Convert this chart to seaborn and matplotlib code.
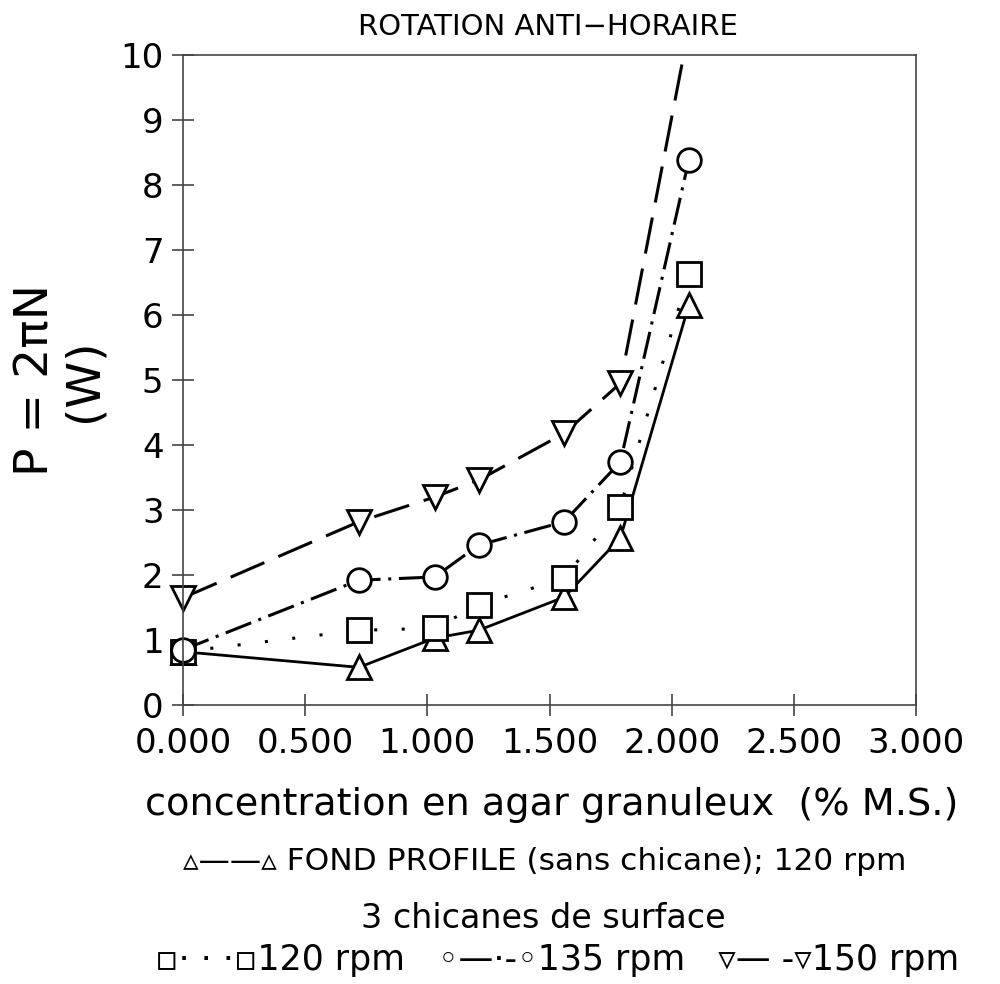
import numpy as np
import pandas as pd
import matplotlib
matplotlib.use("Agg")
import matplotlib.pyplot as plt
from matplotlib.patches import Rectangle
import seaborn as sns

# concentration en agar granuleux (% M.S.)
conc = [0.0, 0.72, 1.03, 1.21, 1.56, 1.79, 2.07]

# puissance P (W)
fond_120 = [0.82, 0.58, 1.03, 1.15, 1.66, 2.57, 6.15]
chic_120 = [0.82, 1.15, 1.18, 1.54, 1.95, 3.05, 6.63]
chic_135 = [0.85, 1.92, 1.97, 2.46, 2.82, 3.74, 8.38]
chic_150 = [1.65, 2.82, 3.20, 3.46, 4.18, 4.95, 10.4]

xticks = [0.0, 0.5, 1.0, 1.5, 2.0, 2.5, 3.0]
yticks = list(range(0, 11))

sns.set_style("white")
plt.rcParams['font.family'] = ['DejaVu Sans']
plt.rcParams['text.color'] = 'black'
plt.rcParams['xtick.color'] = 'black'
plt.rcParams['ytick.color'] = 'black'

fig = plt.figure(figsize=(10, 9.84), dpi=100)
ax = fig.add_axes([0.183, 0.2835, 0.733, 0.6606])

df = pd.DataFrame({"conc": conc, "fond_120": fond_120, "chic_120": chic_120,
                   "chic_135": chic_135, "chic_150": chic_150})

mk = dict(color="black", markersize=17, markerfacecolor="white",
          markeredgecolor="black", markeredgewidth=2)

sns.lineplot(data=df, x="conc", y="fond_120", ax=ax, marker="^",
             linestyle="-", linewidth=2, legend=False, **mk)
sns.lineplot(data=df, x="conc", y="chic_120", ax=ax, marker="s",
             linestyle=(0, (1, 8)), linewidth=2.2, legend=False, **mk)
sns.lineplot(data=df, x="conc", y="chic_135", ax=ax, marker="o",
             linestyle=(0, (9, 2.5, 1, 2.5)), linewidth=2.2, legend=False, **mk)
sns.lineplot(data=df, x="conc", y="chic_150", ax=ax, marker="v",
             linestyle=(0, (12, 5)), linewidth=2.2, legend=False, **mk)

# let the markers at x=0 show in full, but cut everything above y=10
for line in ax.lines:
    clip = Rectangle((-0.1, -0.1), 1.2, 1.1, transform=ax.transAxes,
                     facecolor="none", edgecolor="none")
    line.set_clip_path(clip)

ax.set_xlim(0, 3.0)
ax.set_ylim(0, 10)
ax.set_xticks(xticks)
ax.set_xticklabels([f"{t:.3f}" for t in xticks])
ax.set_yticks(yticks)
ax.tick_params(axis="both", direction="inout", length=16, width=1.2,
               color="#444444", labelsize=24.5, bottom=True, left=True)
ax.tick_params(axis="x", pad=8)
ax.tick_params(axis="y", pad=6)
for s in ax.spines.values():
    s.set_color("#444444")
    s.set_linewidth(1.2)
ax.set_xlabel("")
ax.set_ylabel("")

fig.text(0.06, 0.614, "P = 2\u03c0N\n(W)", rotation=90, fontsize=34,
         ha="center", va="center", multialignment="center", linespacing=1.1)

fig.text(0.548, 0.973, "ROTATION ANTI\u2212HORAIRE", fontsize=21,
         ha="center", va="center")
fig.text(0.552, 0.182, "concentration en agar granuleux  (% M.S.)",
         fontsize=27.5, ha="center", va="center")
fig.text(0.545, 0.124, "\u25b5\u2014\u2014\u25b5 FOND PROFILE (sans chicane); 120 rpm",
         fontsize=22.5, ha="center", va="center")
fig.text(0.543, 0.067, "3 chicanes de surface", fontsize=24,
         ha="center", va="center")
fig.text(0.557, 0.024,
         "\u25ab\u00b7 \u00b7 \u00b7\u25ab120 rpm   \u25e6\u2014\u00b7-\u25e6135 rpm   \u25bf\u2014 -\u25bf150 rpm",
         fontsize=25, ha="center", va="center")

fig.savefig("out.png", dpi=100, facecolor="white")
